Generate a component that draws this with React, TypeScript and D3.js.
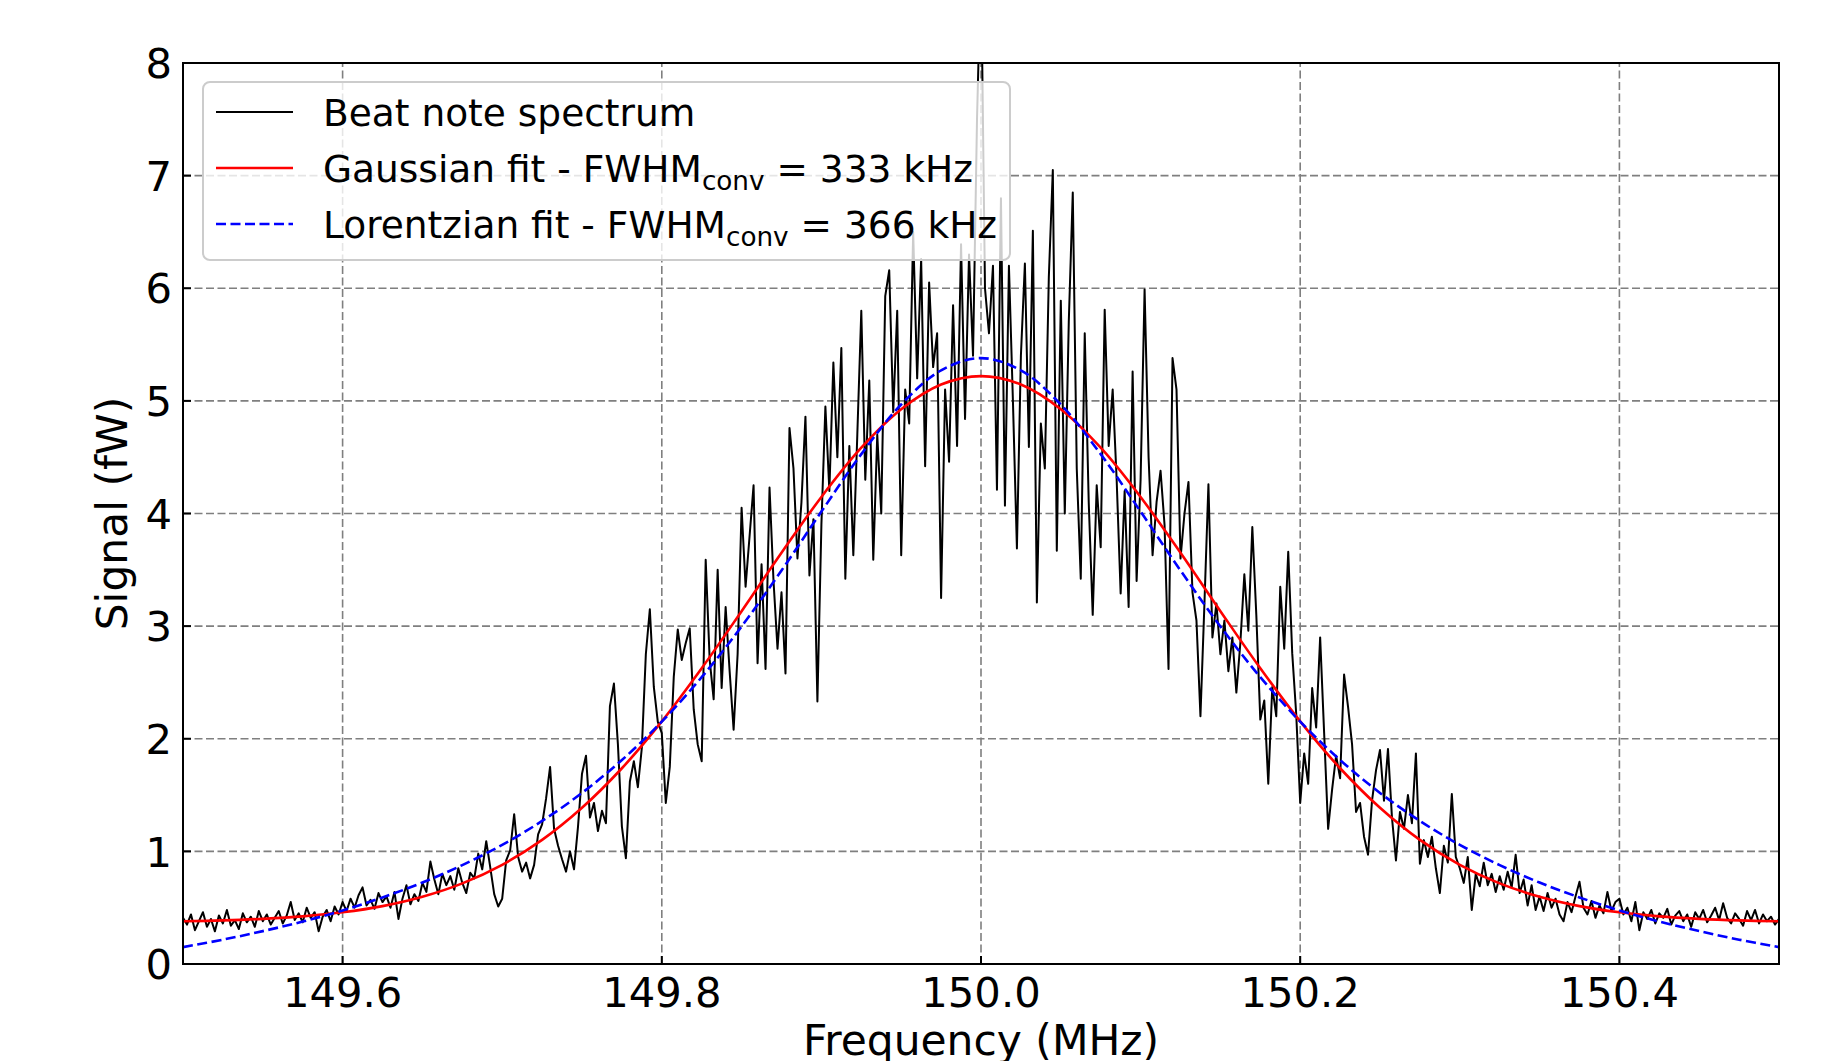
import React from "react";
import * as d3 from "d3";

// ---------- data ----------
const freqStart = 149.5;
const freqStep = 0.0025;

// Beat note spectrum (fW), 149.5000 .. 149.7975 MHz
const spectrumLeft = [
  0.41,0.35,0.44,0.30,0.38,0.46,0.33,0.40,0.29,0.43,0.36,0.48,0.34,0.39,0.31,0.45,0.37,0.42,0.33,0.47,
  0.38,0.44,0.35,0.41,0.47,0.36,0.43,0.55,0.39,0.45,0.37,0.50,0.41,0.46,0.29,0.42,0.48,0.38,0.51,0.44,
  0.55,0.47,0.58,0.50,0.61,0.68,0.52,0.57,0.49,0.63,0.55,0.60,0.50,0.64,0.40,0.58,0.70,0.53,0.62,0.56,
  0.72,0.64,0.91,0.75,0.62,0.80,0.70,0.78,0.66,0.85,0.72,0.63,0.81,0.76,0.98,0.84,1.09,0.86,0.62,0.51,
  0.58,0.92,1.01,1.33,0.95,0.82,0.90,0.76,0.88,1.15,1.24,1.47,1.75,1.20,1.05,0.93,0.82,1.00,0.84,1.22,
  1.69,1.85,1.30,1.43,1.18,1.36,1.25,2.29,2.49,1.95,1.22,0.94,1.62,1.80,1.57,1.92,2.75,3.15,2.46,2.15,
];
// 149.8000 .. 150.1975 MHz
const spectrumCore = [
  2.05,1.43,1.75,2.55,2.97,2.70,2.85,2.98,2.26,1.95,1.80,3.59,2.70,2.35,3.50,2.45,3.17,2.60,2.08,2.75,
  4.05,3.35,3.80,4.25,2.67,3.55,2.62,4.23,3.40,2.80,3.30,2.58,4.76,4.40,3.60,4.10,4.86,3.45,3.95,2.33,
  3.90,4.95,4.20,5.34,4.50,5.47,3.42,4.60,3.63,4.70,5.80,4.30,5.18,3.59,4.70,4.00,5.93,6.16,4.90,5.80,
  3.63,5.10,4.80,6.50,5.20,6.26,4.42,6.05,5.30,5.60,3.25,5.10,4.46,5.85,4.60,6.39,4.84,6.30,5.40,7.50,
  8.90,6.00,5.60,6.20,4.21,6.80,4.07,6.20,5.00,3.69,5.40,6.22,4.59,6.51,3.21,4.80,4.40,6.10,7.05,3.67,
  5.89,4.00,5.70,6.85,4.40,3.42,5.60,4.10,3.10,4.25,3.70,5.81,4.60,5.10,4.30,3.29,4.20,3.17,5.26,3.40,
  4.30,5.99,4.50,3.63,4.10,4.38,3.90,2.62,5.38,5.10,3.60,4.00,4.28,3.30,3.05,2.20,3.20,4.26,2.90,3.20,
  2.75,3.05,2.60,2.90,2.41,2.85,3.46,2.96,3.88,3.10,2.17,2.34,1.60,2.46,2.20,3.35,2.80,3.66,2.76,2.22,
];
// 150.2000 .. 150.5000 MHz
const spectrumRight = [
  1.43,1.87,1.60,2.45,2.10,2.90,2.05,1.20,1.55,1.85,1.65,2.57,2.28,1.95,1.35,1.43,1.13,0.97,1.45,1.72,
  1.90,1.45,1.91,1.30,0.92,1.35,1.20,1.50,1.25,1.87,0.89,1.10,0.95,1.13,0.85,0.63,1.05,0.90,1.51,0.95,
  0.85,0.72,0.95,0.48,0.80,0.69,0.90,0.70,0.80,0.64,0.78,0.66,0.82,0.68,0.97,0.63,0.75,0.52,0.70,0.48,
  0.60,0.47,0.63,0.50,0.58,0.44,0.38,0.55,0.46,0.60,0.73,0.50,0.44,0.56,0.41,0.52,0.45,0.64,0.47,0.55,
  0.58,0.44,0.50,0.38,0.55,0.30,0.46,0.40,0.48,0.36,0.45,0.41,0.49,0.35,0.43,0.47,0.38,0.44,0.33,0.46,
  0.40,0.48,0.37,0.43,0.50,0.39,0.54,0.41,0.36,0.45,0.40,0.34,0.47,0.39,0.48,0.36,0.44,0.38,0.42,0.35,0.40,
];

// Fit curves sampled every 25 kHz from 149.5 to 150.5 MHz
const fitStart = 149.5;
const fitStep = 0.025;
const gaussianFit = [
  0.379,0.387,0.401,0.423,0.459,0.514,0.597,0.716,0.881,1.102,1.387,1.738,2.154,2.626,3.133,3.651,4.147,4.584,4.926,5.145,
  5.220,
  5.145,4.926,4.584,4.147,3.651,3.133,2.626,2.154,1.738,1.387,1.102,0.881,0.716,0.597,0.514,0.459,0.423,0.401,0.387,0.379,
];
const lorentzianFit = [
  0.150,0.216,0.292,0.377,0.476,0.591,0.723,0.878,1.058,1.270,1.519,1.811,2.152,2.547,2.997,3.494,4.017,4.527,4.968,5.271,
  5.380,
  5.271,4.968,4.527,4.017,3.494,2.997,2.547,2.152,1.811,1.519,1.270,1.058,0.878,0.723,0.591,0.476,0.377,0.292,0.216,0.150,
];

const xTicks = [149.6, 149.8, 150.0, 150.2, 150.4];
const yTicks = [0, 1, 2, 3, 4, 5, 6, 7, 8];
const xLabel = "Frequency (MHz)";
const yLabel = "Signal (fW)";

// ---------- layout ----------
const W = 1824;
const H = 1061;
const L = 183, R = 1779, T = 63, B = 964;
const FONT = "DejaVu Sans";
const tickFs = 41.7;
const labelFs = 42.4;
const legFs = 37.5;

export default function App() {
  React.useEffect(() => {
    document.body.style.margin = "0";
  }, []);

  const x = d3.scaleLinear().domain([149.5, 150.5]).range([L, R]);
  const y = d3.scaleLinear().domain([0, 8]).range([B, T]);

  const spectrum = spectrumLeft.concat(spectrumCore, spectrumRight);
  const spectrumPts: [number, number][] = spectrum.map((v, i) => [freqStart + i * freqStep, v]);
  const gaussPts: [number, number][] = gaussianFit.map((v, i) => [fitStart + i * fitStep, v]);
  const lorPts: [number, number][] = lorentzianFit.map((v, i) => [fitStart + i * fitStep, v]);

  const lineLin = d3.line<[number, number]>().x((d) => x(d[0])).y((d) => y(d[1]));
  const lineSmooth = d3
    .line<[number, number]>()
    .x((d) => x(d[0]))
    .y((d) => y(d[1]))
    .curve(d3.curveCatmullRom.alpha(0.5));

  const gridColor = "#7f7f7f";
  const gridDash = "8,3.5";

  const legRows = [112, 168, 224];

  return (
    <svg
      width={W}
      height={H}
      viewBox={`0 0 ${W} ${H}`}
      style={{ position: "absolute", left: 0, top: 0, background: "#fff" }}
      fontFamily={FONT}
    >
      <defs>
        <clipPath id="plotClip">
          <rect x={L} y={T} width={R - L} height={B - T} />
        </clipPath>
      </defs>
      <rect x={0} y={0} width={W} height={H} fill="#fff" />

      {/* grid */}
      <g stroke={gridColor} strokeWidth={1.6} strokeDasharray={gridDash} fill="none">
        {xTicks.map((t) => (
          <line key={"gx" + t} x1={x(t)} x2={x(t)} y1={B} y2={T} />
        ))}
        {yTicks.filter((t) => t > 0 && t < 8).map((t) => (
          <line key={"gy" + t} x1={L} x2={R} y1={y(t)} y2={y(t)} />
        ))}
      </g>

      {/* data */}
      <g clipPath="url(#plotClip)" fill="none">
        <path d={lineLin(spectrumPts) || ""} stroke="#000" strokeWidth={2} strokeLinejoin="round" />
        <path d={lineSmooth(gaussPts) || ""} stroke="#ff0000" strokeWidth={2.6} />
        <path d={lineSmooth(lorPts) || ""} stroke="#0000ff" strokeWidth={2.6} strokeDasharray="10,4.5" />
      </g>

      {/* ticks (inward) */}
      <g stroke="#000" strokeWidth={2}>
        {xTicks.map((t) => (
          <line key={"tx" + t} x1={x(t)} x2={x(t)} y1={B} y2={B - 8} />
        ))}
        {yTicks.map((t) => (
          <line key={"ty" + t} x1={L} x2={L + 8} y1={y(t)} y2={y(t)} />
        ))}
      </g>

      {/* spines */}
      <rect x={L} y={T} width={R - L} height={B - T} fill="none" stroke="#000" strokeWidth={2} />

      {/* tick labels */}
      <g fontSize={tickFs} fill="#000">
        {xTicks.map((t) => (
          <text key={"lx" + t} x={x(t)} y={1007} textAnchor="middle">
            {t.toFixed(1)}
          </text>
        ))}
        {yTicks.map((t) => (
          <text key={"ly" + t} x={172} y={y(t) + 15.2} textAnchor="end">
            {String(t)}
          </text>
        ))}
      </g>

      {/* axis labels */}
      <text x={(L + R) / 2} y={1055} textAnchor="middle" fontSize={labelFs} fill="#000">
        {xLabel}
      </text>
      <text
        transform={`translate(127, ${(T + B) / 2}) rotate(-90)`}
        textAnchor="middle"
        fontSize={labelFs}
        fill="#000"
      >
        {yLabel}
      </text>

      {/* legend */}
      <g>
        <rect
          x={203}
          y={82}
          width={807}
          height={178}
          rx={7}
          ry={7}
          fill="#fff"
          fillOpacity={0.8}
          stroke="#cccccc"
          strokeWidth={2}
        />
        <line x1={216} x2={293} y1={legRows[0]} y2={legRows[0]} stroke="#000" strokeWidth={1.8} />
        <line x1={216} x2={293} y1={legRows[1]} y2={legRows[1]} stroke="#ff0000" strokeWidth={2.6} />
        <line
          x1={216}
          x2={293}
          y1={legRows[2]}
          y2={legRows[2]}
          stroke="#0000ff"
          strokeWidth={2.6}
          strokeDasharray="10,4.5"
        />
        <g fontSize={legFs} fill="#000" style={{ whiteSpace: "pre" }}>
          <text x={323} y={legRows[0] + 13.7}>Beat note spectrum</text>
          <text x={323} y={legRows[1] + 13.7}>
            <tspan>Gaussian fit - FWHM</tspan>
            <tspan dy={8} fontSize={26.25}>conv</tspan>
            <tspan dy={-8}>{" = 333 kHz"}</tspan>
          </text>
          <text x={323} y={legRows[2] + 13.7}>
            <tspan>Lorentzian fit - FWHM</tspan>
            <tspan dy={8} fontSize={26.25}>conv</tspan>
            <tspan dy={-8}>{" = 366 kHz"}</tspan>
          </text>
        </g>
      </g>
    </svg>
  );
}
